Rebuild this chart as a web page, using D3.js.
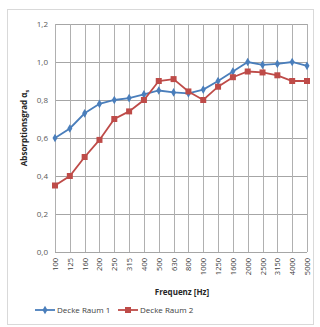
<!DOCTYPE html>
<html><head><meta charset="utf-8">
<script src="https://cdn.jsdelivr.net/npm/d3@7"></script>
<style>body{margin:0;background:#fff;}svg{display:block;}text{font-family:"Open Sans","DejaVu Sans",sans-serif;}</style>
</head><body><div id="chart"></div>
<script>
const categories = ["100","125","160","200","250","315","400","500","630","800","1000","1250","1600","2000","2500","3150","4000","5000"];
const raum1 = [0.60,0.65,0.73,0.78,0.80,0.81,0.83,0.85,0.84,0.835,0.855,0.90,0.95,1.00,0.985,0.99,1.00,0.98];
const raum2 = [0.35,0.40,0.50,0.59,0.70,0.74,0.80,0.90,0.91,0.845,0.80,0.87,0.92,0.95,0.945,0.93,0.90,0.90];
const yTicks = [0,0.2,0.4,0.6,0.8,1.0,1.2];
const seriesNames = ["Decke Raum 1","Decke Raum 2"];

const W=320,H=327;
const svg=d3.select("#chart").append("svg").attr("width",W).attr("height",H);
svg.append("rect").attr("x",7.5).attr("y",9.5).attr("width",306).attr("height",315).attr("fill","#fff").attr("stroke","#d9d9d9");

const m={l:55,r:307,t:24,b:252};
const x=d3.scalePoint().domain(categories).range([m.l,m.r]);
const y=d3.scaleLinear().domain([0,1.2]).range([m.b,m.t]);

const g=svg.append("g");
// horizontal grid
g.selectAll(".hg").data(yTicks).join("line").attr("x1",m.l).attr("x2",m.r)
 .attr("y1",d=>Math.round(y(d))+0.5).attr("y2",d=>Math.round(y(d))+0.5).attr("stroke","#a6a6a6").attr("stroke-width",1);
// vertical grid
g.selectAll(".vg").data(categories).join("line").attr("y1",m.t).attr("y2",m.b)
 .attr("x1",d=>Math.round(x(d))+0.5).attr("x2",d=>Math.round(x(d))+0.5).attr("stroke","#b0b0b0").attr("stroke-width",1);

// y axis labels
const fmt=d=>d3.format(".1f")(d).replace(".",",");
g.selectAll(".yl").data(yTicks).join("text").attr("x",48).attr("y",d=>y(d)+3)
 .attr("text-anchor","end").attr("font-size",8).attr("fill","#595959").text(fmt);
// x axis labels
g.selectAll(".xl").data(categories).join("text")
 .attr("transform",d=>`translate(${x(d)+3},${258}) rotate(-90)`)
 .attr("text-anchor","end").attr("font-size",7.5).attr("fill","#404040").text(d=>d);

// titles
svg.append("text").attr("transform","translate(27,128) rotate(-90)").attr("text-anchor","middle")
 .attr("font-size",8).attr("font-weight","bold").attr("fill","#262626")
 .html('Absorptionsgrad α<tspan font-size="5.5" dy="2">s</tspan>');
svg.append("text").attr("x",182).attr("y",295).attr("text-anchor","middle").attr("font-size",8)
 .attr("font-weight","bold").attr("fill","#262626").text("Frequenz [Hz]");

const colors=["#4a7ebb","#be4b48"];
const line=d3.line().x((d,i)=>x(categories[i])).y(d=>y(d));
[raum1,raum2].forEach((s,k)=>{
  svg.append("path").datum(s).attr("d",line).attr("fill","none").attr("stroke",colors[k]).attr("stroke-width",1.8);
});
svg.selectAll(".m1").data(raum1).join("path")
 .attr("transform",(d,i)=>`translate(${x(categories[i])},${y(d)})`)
 .attr("d",d3.symbol(d3.symbolDiamond,22)).attr("fill",colors[0]);
svg.selectAll(".m2").data(raum2).join("rect")
 .attr("x",(d,i)=>x(categories[i])-3).attr("y",d=>y(d)-3).attr("width",6).attr("height",6).attr("fill",colors[1]);

// legend
const lg=[{x:35,c:colors[0],n:seriesNames[0],sq:false},{x:118,c:colors[1],n:seriesNames[1],sq:true}];
lg.forEach(o=>{
  svg.append("line").attr("x1",o.x).attr("x2",o.x+20).attr("y1",310).attr("y2",310).attr("stroke",o.c).attr("stroke-width",1.8);
  if(o.sq) svg.append("rect").attr("x",o.x+7).attr("y",307).attr("width",6).attr("height",6).attr("fill",o.c);
  else svg.append("path").attr("transform",`translate(${o.x+10},310)`).attr("d",d3.symbol(d3.symbolDiamond,22)).attr("fill",o.c);
  svg.append("text").attr("x",o.x+22).attr("y",313).attr("font-size",8).attr("fill","#404040").text(o.n);
});
</script></body></html>
